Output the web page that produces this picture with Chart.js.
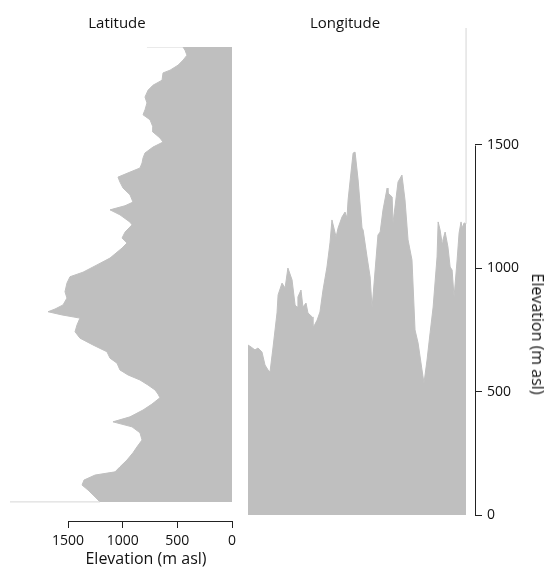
<!DOCTYPE html>
<html><head><meta charset="utf-8">
<script src="https://cdn.jsdelivr.net/npm/chart.js@4.4.1/dist/chart.umd.min.js"></script>
<style>
html,body{margin:0;padding:0;background:#fff;}
#wrap{position:relative;width:547px;height:567px;overflow:hidden;font-family:"Open Sans",sans-serif;color:#111;}
canvas{position:absolute;top:0;}
.t{position:absolute;font-size:15px;white-space:nowrap;transform:translate(-50%,-50%);line-height:1;}
</style></head><body>
<div id="wrap">
<canvas id="lat" width="250" height="567" style="left:0px"></canvas>
<canvas id="lon" width="307" height="567" style="left:240px"></canvas>
<div class="t" style="left:117px;top:22px">Latitude</div>
<div class="t" style="left:345px;top:22px">Longitude</div>
<div class="t" style="left:146px;top:558px;font-size:16px">Elevation (m asl)</div>
<div class="t" style="left:538px;top:334px;font-size:16px;transform:translate(-50%,-50%) rotate(90deg)">Elevation (m asl)</div>
</div>
<script>
// Latitude profile: position along the N-S transect (%, 100 = north end) and elevation (m asl)
const latPosition = [100, 100, 99.3, 98.2, 97.1, 96.0, 94.9, 94.3, 92.7, 91.6,
  90.5, 89.0, 87.7, 86.2, 85.1, 84.0, 82.4, 81.3, 80.0, 79.1,
  78.0, 76.7, 75.6, 74.5, 73.4, 72.5, 71.4, 70.3, 69.0, 67.5,
  65.9, 65.1, 64.2, 63.1, 61.5, 60.9, 59.3, 58.0, 56.9, 55.8,
  53.6, 52.1, 50.5, 49.5, 48.1, 46.2, 44.8, 43.3, 42.4, 41.8,
  41.1, 40.4, 38.9, 37.4, 36.0, 34.5, 33.0, 31.6, 30.5, 29.0,
  27.9, 26.8, 25.7, 24.6, 23.7, 22.9, 21.5, 20.2, 18.7, 17.6,
  16.5, 15.2, 13.6, 12.1, 10.8, 9.2, 7.7, 6.6, 5.9, 4.8,
  3.7, 2.6, 1.1, 0, 0];
const latElevation = [778, 448, 430, 412, 448, 494, 567, 631, 640, 723,
  768, 796, 778, 796, 814, 750, 723, 723, 659, 631,
  723, 796, 814, 823, 842, 933, 1043, 1025, 997, 933,
  906, 979, 1116, 1025, 933, 915, 979, 1006, 961, 1006,
  1116, 1235, 1363, 1482, 1510, 1528, 1510, 1546, 1619, 1683,
  1555, 1391, 1418, 1436, 1391, 1272, 1144, 1116, 1052, 1025,
  951, 842, 769, 704, 677, 659, 732, 814, 933, 1089,
  915, 842, 823, 869, 906, 961, 1025, 1070, 1253, 1354,
  1372, 1317, 1253, 1208, 2031];

// Longitude profile: position along the W-E transect (%, 0 = west end) and elevation (m asl)
const lonPosition = [0, 1.4, 3.2, 4.6, 6.4, 7.8, 9.2, 10.1, 11.5, 13.3,
  13.8, 15.6, 17.0, 18.3, 20.2, 21.6, 22.5, 22.9, 24.3, 25.2,
  26.6, 27.5, 29.4, 29.8, 31.7, 33.0, 34.4, 36.2, 37.6, 38.5,
  40.4, 41.3, 43.1, 44.5, 45.4, 45.9, 47.2, 48.2, 49.1, 50.5,
  52.3, 52.8, 54.6, 56.0, 56.9, 58.3, 59.6, 60.6, 61.9, 63.8,
  64.2, 66.1, 66.5, 67.4, 68.8, 70.6, 72.0, 73.4, 75.2, 76.6,
  78.0, 79.8, 80.7, 82.1, 83.5, 84.9, 86.7, 87.2, 88.1, 89.0,
  89.4, 90.4, 91.7, 92.7, 93.6, 94.5, 95.9, 96.8, 97.7, 98.2,
  99.1, 100, 100];
const lonElevation = [689, 681, 669, 677, 661, 608, 588, 580, 681, 819,
  892, 940, 920, 1001, 953, 851, 843, 884, 912, 843,
  859, 819, 803, 758, 790, 823, 912, 1005, 1103, 1196,
  1127, 1163, 1208, 1228, 1204, 1277, 1386, 1467, 1471, 1358,
  1163, 1155, 1046, 965, 839, 993, 1135, 1147, 1236, 1325,
  1305, 1289, 1184, 1248, 1350, 1378, 1277, 1115, 1034, 750,
  697, 588, 535, 628, 738, 843, 1046, 1188, 1155, 1103,
  1115, 1147, 1086, 1005, 993, 884, 1034, 1143, 1188, 1163,
  1184, 1180, 1974];

const elevTicks = [0, 500, 1000, 1500];

const FILL = '#bfbfbf';
const EDGE = '#d6d6d6';
const INK = '#222222';
const TXT = '#111111';
const FONT = {family: '"Open Sans", sans-serif', size: 14};

function axisLinePlugin(axisId, from, to) {
  return {
    id: 'axisLine_' + axisId,
    afterDraw(chart) {
      const s = chart.scales[axisId];
      const ctx = chart.ctx;
      ctx.save();
      ctx.strokeStyle = INK;
      ctx.lineWidth = 1;
      ctx.beginPath();
      if (s.isHorizontal()) {
        const y = Math.round(chart.chartArea.bottom) + 0.5;
        ctx.moveTo(Math.round(s.getPixelForValue(from)) + 0.5, y);
        ctx.lineTo(Math.round(s.getPixelForValue(to)) + 0.5, y);
      } else {
        const x = Math.round(chart.chartArea.right) + 0.5;
        ctx.moveTo(x, Math.round(s.getPixelForValue(from)) + 0.5);
        ctx.lineTo(x, Math.round(s.getPixelForValue(to)) + 0.5);
      }
      ctx.stroke();
      ctx.restore();
    }
  };
}

const fixTicks = (scale) => { scale.ticks = elevTicks.map(v => ({value: v})); };
const plainLabel = v => String(v);

// Left panel: latitude profile
const latN = latPosition.length;
new Chart(document.getElementById('lat'), {
  type: 'line',
  data: {
    datasets: [{
      data: latPosition.map((p, i) => ({x: latElevation[i], y: p})),
      fill: 'origin',
      backgroundColor: FILL,
      borderColor: FILL,
      borderWidth: 1,
      pointRadius: 0,
      tension: 0,
      segment: {
        borderColor: c => (c.p0DataIndex === 0 || c.p1DataIndex === latN - 1) ? EDGE : FILL
      }
    }]
  },
  options: {
    indexAxis: 'y',
    responsive: false,
    animation: false,
    events: [],
    layout: {padding: {left: 10, right: 18, top: 47, bottom: 16}},
    plugins: {legend: {display: false}, tooltip: {enabled: false}, title: {display: false}},
    scales: {
      x: {
        type: 'linear', reverse: true, min: 0, max: 2031,
        position: 'bottom',
        afterBuildTicks: fixTicks,
        afterFit: s => { s.height = 30; },
        border: {display: false},
        grid: {display: true, drawOnChartArea: false, drawTicks: true, tickLength: 7, color: INK, lineWidth: 1},
        ticks: {font: FONT, color: TXT, padding: 5, maxRotation: 0, autoSkip: false, callback: plainLabel}
      },
      y: {type: 'linear', min: -4.2, max: 100, display: false}
    }
  },
  plugins: [axisLinePlugin('x', 0, 1500)]
});

// Right panel: longitude profile
const lonN = lonPosition.length;
new Chart(document.getElementById('lon'), {
  type: 'line',
  data: {
    datasets: [{
      data: lonPosition.map((p, i) => ({x: p, y: lonElevation[i]})),
      fill: 'origin',
      backgroundColor: FILL,
      borderColor: FILL,
      borderWidth: 1,
      pointRadius: 0,
      tension: 0,
      segment: {
        borderColor: c => (c.p1DataIndex === lonN - 1) ? EDGE : FILL
      }
    }]
  },
  options: {
    responsive: false,
    animation: false,
    events: [],
    layout: {padding: {left: 8, right: 0, top: 28, bottom: 52}},
    plugins: {legend: {display: false}, tooltip: {enabled: false}, title: {display: false}},
    scales: {
      x: {type: 'linear', min: 0, max: 104.1, display: false},
      y: {
        type: 'linear', min: 0, max: 1974,
        position: 'right',
        afterBuildTicks: fixTicks,
        afterFit: s => { s.width = 72; },
        border: {display: false},
        grid: {display: true, drawOnChartArea: false, drawTicks: true, tickLength: 7, color: INK, lineWidth: 1},
        ticks: {font: FONT, color: TXT, padding: 5, autoSkip: false, callback: plainLabel}
      }
    }
  },
  plugins: [axisLinePlugin('y', 0, 1500)]
});
</script>
</body></html>
